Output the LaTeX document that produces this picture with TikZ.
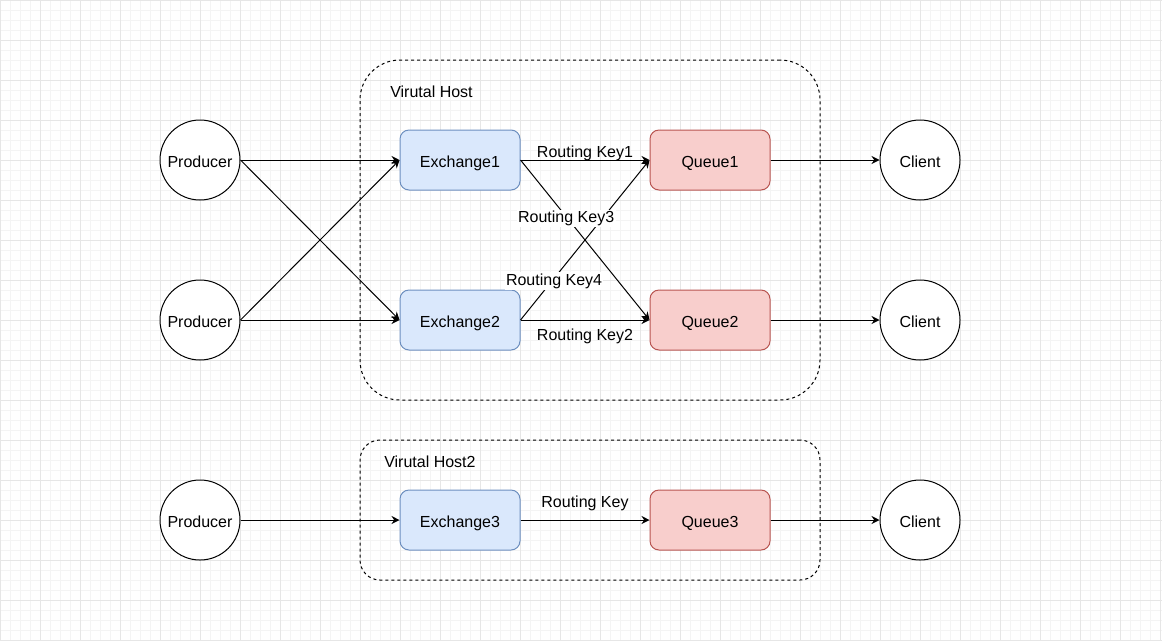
\documentclass[tikz,border=0pt]{standalone}
\usepackage{xcolor}
\usepackage{fontspec}
\setmainfont{Liberation Sans}
\usepackage{tikz}
\usetikzlibrary{arrows.meta,positioning}
\definecolor{exfill}{HTML}{DAE8FC}
\definecolor{exdraw}{HTML}{6C8EBF}
\definecolor{qfill}{HTML}{F8CECC}
\definecolor{qdraw}{HTML}{B85450}
\definecolor{gridminor}{HTML}{F4F4F4}
\definecolor{gridmajor}{HTML}{E6E6E6}

\begin{document}
\begin{tikzpicture}[
  x=0.75pt, y=-0.75pt,
  every node/.style={font=\fontsize{12}{14}\selectfont},
  endpoint/.style={circle, draw=black, line width=0.75pt, fill=white,
                   minimum size=60pt, inner sep=0pt,
                   text height=10.5pt, text depth=0pt},
  exchange/.style={rectangle, rounded corners=6.75pt, draw=exdraw, fill=exfill,
                   line width=0.75pt, minimum width=90pt, minimum height=45pt,
                   inner sep=0pt, text height=10.5pt, text depth=0pt},
  queue/.style={exchange, draw=qdraw, fill=qfill},
  vhost/.style={rectangle, draw=black, line width=0.75pt,
                dash pattern=on 2.25pt off 2.25pt, inner sep=0pt},
  hostlabel/.style={anchor=base west, inner sep=0pt},
  flow/.style={-{Stealth[length=6pt, width=6pt, inset=2pt]},
               line width=0.75pt, draw=black},
  keylabel/.style={inner sep=1pt},
  keyonline/.style={keylabel, fill=white},
]
  % Canvas and background grid.
  \useasboundingbox (0,0) rectangle (1162,640);
  \fill[white] (0,0) rectangle (1162,640);
  \foreach \x in {0,10,...,1160} {
    \draw[gridminor, line width=0.75pt] (\x,0) -- (\x,640);
  }
  \foreach \y in {0,10,...,640} {
    \draw[gridminor, line width=0.75pt] (0,\y) -- (1162,\y);
  }
  \foreach \x in {0,40,...,1160} {
    \draw[gridmajor, line width=0.75pt] (\x,0) -- (\x,640);
  }
  \foreach \y in {0,40,...,640} {
    \draw[gridmajor, line width=0.75pt] (0,\y) -- (1162,\y);
  }

  % Virtual hosts.
  \node[vhost, rounded corners=30pt, minimum width=345pt, minimum height=255pt]
    (vhost1) at (590,230) {};
  \node[hostlabel] (vhost1-label) at (390,97) {Virutal Host};
  \node[vhost, rounded corners=15pt, minimum width=345pt, minimum height=105pt]
    (vhost2) at (590,510) {};
  \node[hostlabel] (vhost2-label) at (384,467) {Virutal Host2};

  % Producers and clients.
  \node[endpoint] (prod1) at (200,160) {Producer};
  \node[endpoint] (prod2) at (200,320) {Producer};
  \node[endpoint] (prod3) at (200,520) {Producer};
  \node[endpoint] (client1) at (920,160) {Client};
  \node[endpoint] (client2) at (920,320) {Client};
  \node[endpoint] (client3) at (920,520) {Client};

  % Exchanges and queues.
  \node[exchange] (ex1) at (460,160) {Exchange1};
  \node[exchange] (ex2) at (460,320) {Exchange2};
  \node[exchange] (ex3) at (460,520) {Exchange3};
  \node[queue] (q1) at (710,160) {Queue1};
  \node[queue] (q2) at (710,320) {Queue2};
  \node[queue] (q3) at (710,520) {Queue3};

  % Producers to exchanges.
  \draw[flow] (prod1.east) -- (ex1.west);
  \draw[flow] (prod1.east) -- (ex2.west);
  \draw[flow] (prod2.east) -- (ex1.west);
  \draw[flow] (prod2.east) -- (ex2.west);
  \draw[flow] (prod3.east) -- (ex3.west);

  % Bindings with routing keys.
  \draw[flow] (ex1.east) -- node[keylabel, anchor=base, yshift=2.25pt] (rk1) {Routing Key1} (q1.west);
  \draw[flow] (ex2.east) -- node[keylabel, anchor=base, yshift=-15pt] (rk2) {Routing Key2} (q2.west);
  \draw[flow] (ex2.east) -- node[keyonline, pos=0.26, yshift=-2pt] (rk4) {Routing Key4} (q1.west);
  \draw[flow] (ex1.east) -- node[keyonline, pos=0.354, yshift=-1.5pt] (rk3) {Routing Key3} (q2.west);
  \draw[flow] (ex3.east) -- node[keylabel, anchor=base, yshift=9.75pt] (rk) {Routing Key} (q3.west);

  % Queues to clients.
  \draw[flow] (q1.east) -- (client1.west);
  \draw[flow] (q2.east) -- (client2.west);
  \draw[flow] (q3.east) -- (client3.west);
\end{tikzpicture}
\end{document}
